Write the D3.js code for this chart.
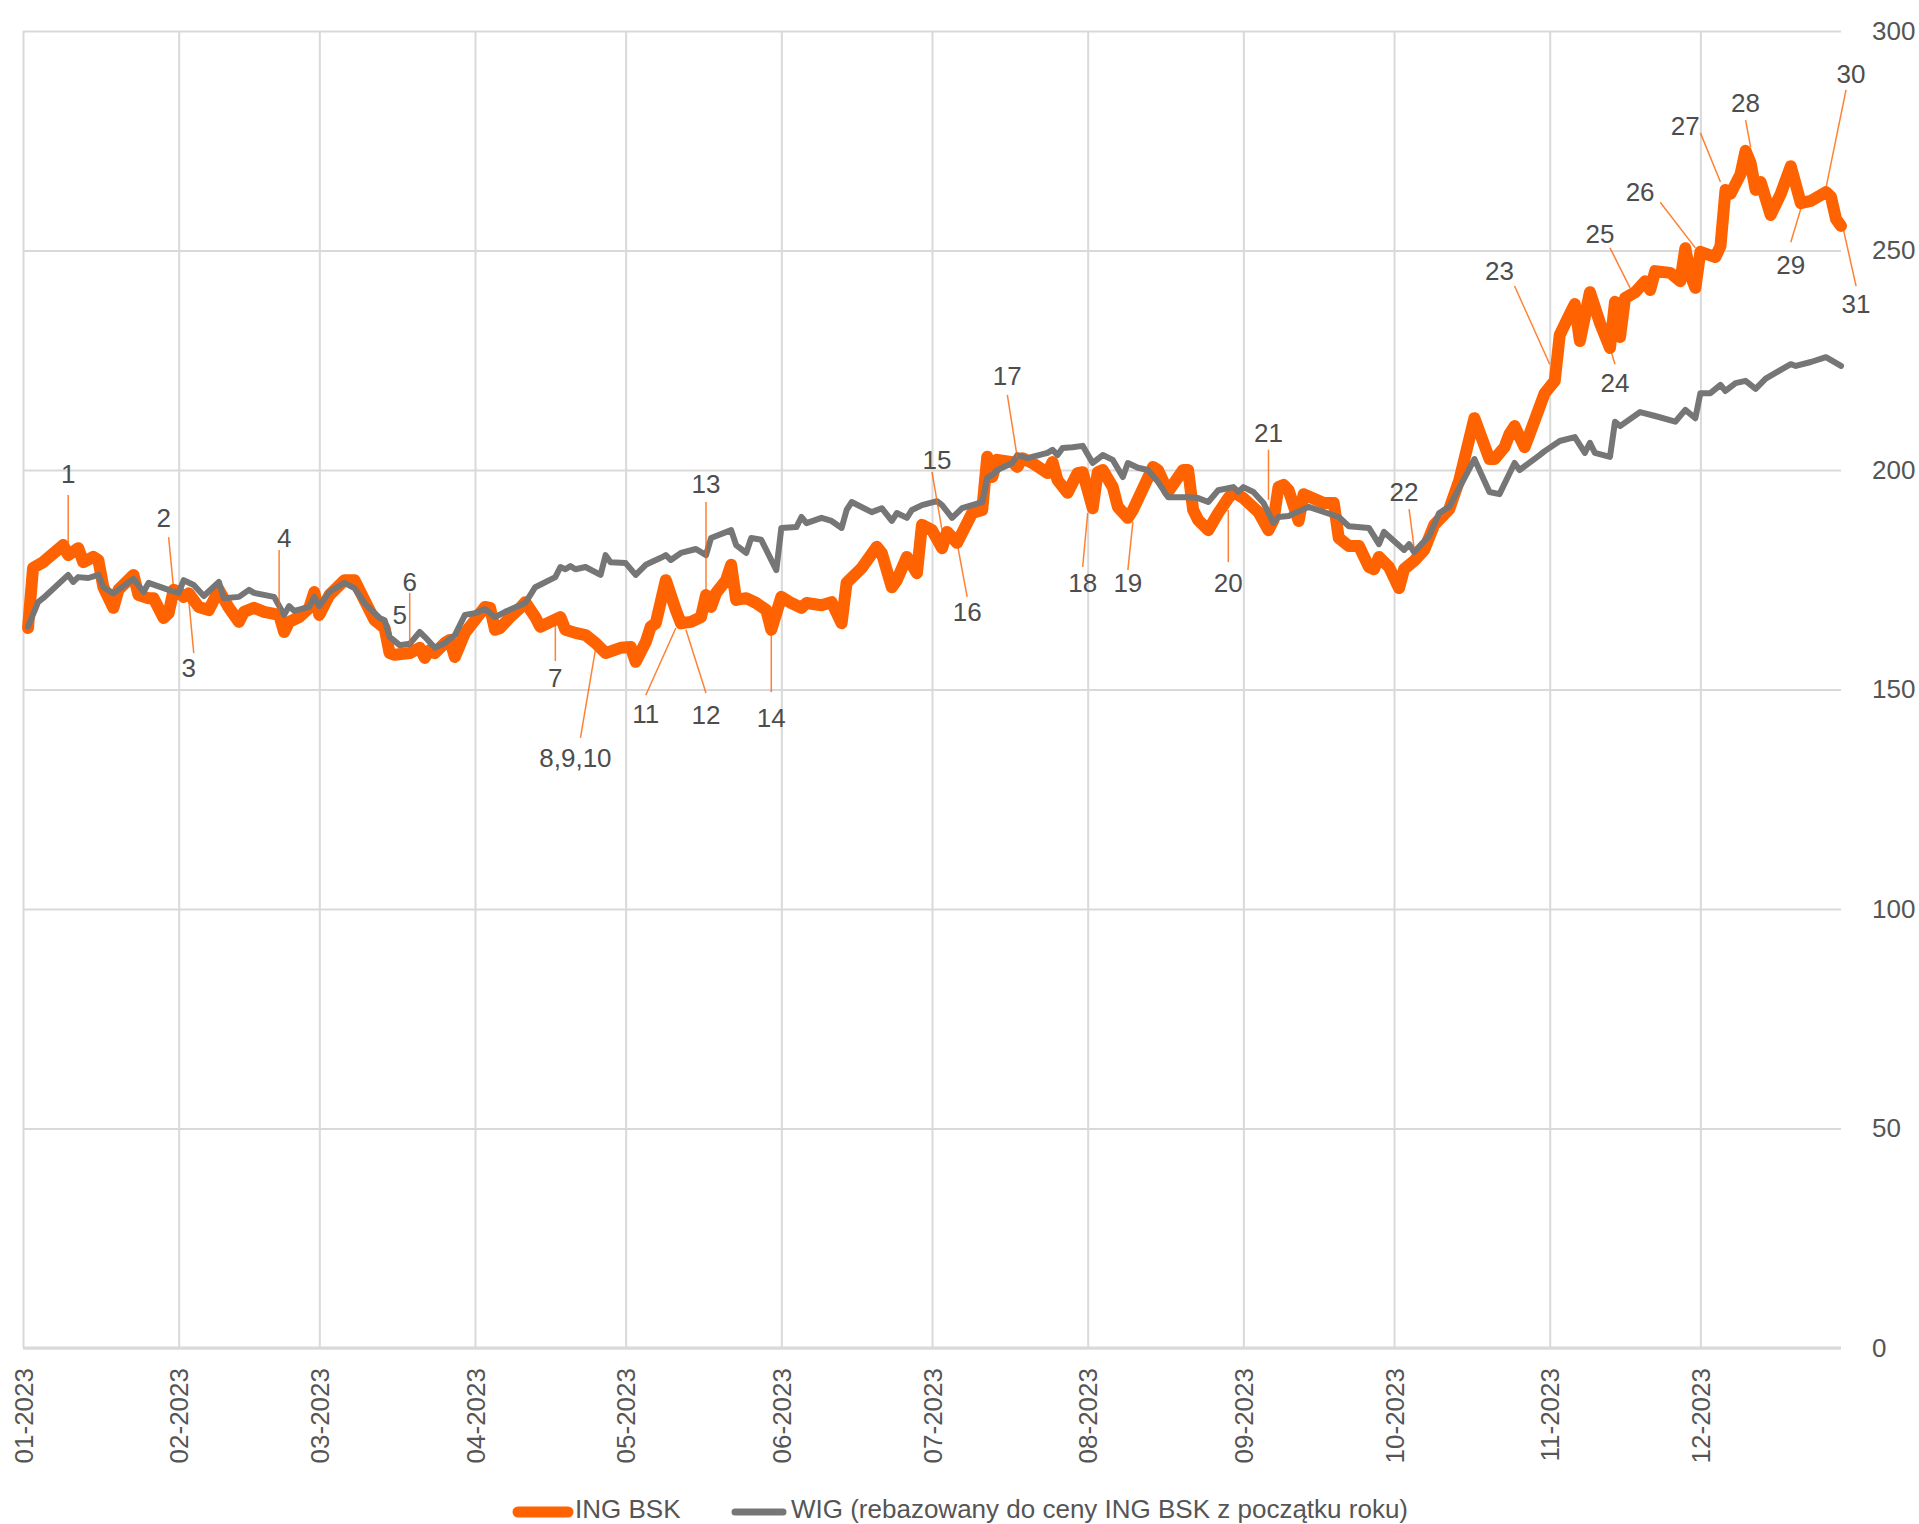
<!DOCTYPE html>
<html>
<head>
<meta charset="utf-8">
<script src="https://cdn.jsdelivr.net/npm/d3@7"></script>
<style>
  body { margin: 0; background: #ffffff; }
  svg { display: block; }
  text { font-family: "Liberation Sans", Arial, sans-serif; }
</style>
</head>
<body>
<div id="chart"></div>
<script>
"use strict";

// ING BSK share price (orange) and WIG rebased to ING BSK price at start of year (grey)
const ingBsk = [
  ["2023-01-02",164.0],["2023-01-03",177.7],["2023-01-05",179.0],["2023-01-09",182.9],["2023-01-10",180.6],
  ["2023-01-12",182.2],["2023-01-13",179.0],["2023-01-15",180.2],["2023-01-16",179.5],["2023-01-17",173.3],
  ["2023-01-19",168.6],["2023-01-20",172.7],["2023-01-23",176.1],["2023-01-24",171.5],["2023-01-26",170.8],
  ["2023-01-27",170.8],["2023-01-29",166.3],["2023-01-30",167.4],["2023-01-31",172.7],["2023-02-01",172.2],
  ["2023-02-02",171.1],["2023-02-03",171.9],["2023-02-05",168.8],["2023-02-07",168.1],["2023-02-09",172.7],
  ["2023-02-11",168.6],["2023-02-13",165.4],["2023-02-14",167.7],["2023-02-16",168.6],["2023-02-18",167.7],
  ["2023-02-21",167.0],["2023-02-22",163.1],["2023-02-23",165.4],["2023-02-25",166.5],["2023-02-27",168.6],
  ["2023-02-28",172.2],["2023-03-01",167.0],["2023-03-03",171.5],["2023-03-06",174.9],["2023-03-08",174.9],
  ["2023-03-12",165.8],["2023-03-14",164.0],["2023-03-15",158.3],["2023-03-16",157.9],["2023-03-19",158.3],
  ["2023-03-21",159.5],["2023-03-22",157.2],["2023-03-23",159.0],["2023-03-24",158.3],["2023-03-26",160.6],
  ["2023-03-27",161.3],["2023-03-28",157.4],["2023-03-30",162.9],["2023-04-01",165.8],["2023-04-03",168.8],
  ["2023-04-04",168.6],["2023-04-05",163.6],["2023-04-06",164.0],["2023-04-08",166.5],["2023-04-10",168.6],
  ["2023-04-11",169.9],["2023-04-13",166.5],["2023-04-14",164.3],["2023-04-18",166.5],["2023-04-19",163.6],
  ["2023-04-21",162.9],["2023-04-23",162.4],["2023-04-25",160.6],["2023-04-27",158.3],["2023-04-30",159.5],
  ["2023-05-02",159.7],["2023-05-03",156.3],["2023-05-05",160.8],["2023-05-06",164.3],["2023-05-07",165.1],
  ["2023-05-09",174.9],["2023-05-11",168.1],["2023-05-12",165.1],["2023-05-14",165.4],["2023-05-16",166.5],
  ["2023-05-17",171.5],["2023-05-18",168.8],["2023-05-19",172.0],["2023-05-21",174.9],["2023-05-22",178.4],
  ["2023-05-23",170.4],["2023-05-25",170.8],["2023-05-27",169.7],["2023-05-29",168.1],["2023-05-30",163.6],
  ["2023-06-01",171.1],["2023-06-03",169.7],["2023-06-05",168.6],["2023-06-06",169.7],["2023-06-09",169.2],
  ["2023-06-11",169.9],["2023-06-13",165.1],["2023-06-14",174.3],["2023-06-17",177.7],["2023-06-20",182.5],
  ["2023-06-21",181.1],["2023-06-23",173.3],["2023-06-24",174.9],["2023-06-26",180.2],["2023-06-28",176.5],
  ["2023-06-29",187.5],["2023-07-01",186.3],["2023-07-03",182.2],["2023-07-04",185.9],["2023-07-06",183.4],
  ["2023-07-09",190.2],["2023-07-11",190.9],["2023-07-12",203.0],["2023-07-13",198.4],["2023-07-14",202.3],
  ["2023-07-17",201.8],["2023-07-18",200.7],["2023-07-19",202.7],["2023-07-21",201.6],["2023-07-24",199.3],
  ["2023-07-25",201.8],["2023-07-26",197.7],["2023-07-28",194.8],["2023-07-30",199.3],["2023-07-31",199.5],
  ["2023-08-02",191.3],["2023-08-03",199.5],["2023-08-04",200.0],["2023-08-06",196.1],["2023-08-07",191.6],
  ["2023-08-09",189.1],["2023-08-10",190.9],["2023-08-13",198.2],["2023-08-14",200.7],["2023-08-15",200.0],
  ["2023-08-17",195.0],["2023-08-20",200.0],["2023-08-21",200.0],["2023-08-22",190.9],["2023-08-23",188.6],
  ["2023-08-25",186.3],["2023-08-27",190.2],["2023-08-29",193.6],["2023-08-30",195.0],["2023-09-01",193.6],
  ["2023-09-04",190.4],["2023-09-06",186.3],["2023-09-07",188.6],["2023-09-08",196.1],["2023-09-09",196.6],
  ["2023-09-10",195.4],["2023-09-12",188.4],["2023-09-13",194.5],["2023-09-17",192.5],["2023-09-19",192.5],
  ["2023-09-20",184.5],["2023-09-22",182.7],["2023-09-24",182.7],["2023-09-26",177.9],["2023-09-27",177.4],
  ["2023-09-28",180.2],["2023-09-30",177.9],["2023-10-02",173.1],["2023-10-03",177.4],["2023-10-05",179.3],
  ["2023-10-07",181.8],["2023-10-09",187.5],["2023-10-12",191.1],["2023-10-14",197.7],["2023-10-17",211.8],
  ["2023-10-20",202.5],["2023-10-21",202.5],["2023-10-23",205.2],["2023-10-24",208.2],["2023-10-25",210.0],
  ["2023-10-27",205.2],["2023-10-28",208.2],["2023-10-31",217.5],["2023-11-01",218.9],["2023-11-02",220.3],
  ["2023-11-03",230.8],["2023-11-05",235.5],["2023-11-06",237.8],["2023-11-07",229.4],["2023-11-09",240.5],
  ["2023-11-11",233.5],["2023-11-13",227.8],["2023-11-14",238.3],["2023-11-15",230.3],["2023-11-16",239.2],
  ["2023-11-18",240.5],["2023-11-20",243.0],["2023-11-21",241.0],["2023-11-22",245.3],["2023-11-25",244.9],
  ["2023-11-27",243.0],["2023-11-28",250.5],["2023-11-29",244.4],["2023-11-30",241.5],["2023-12-01",249.7],
  ["2023-12-04",248.5],["2023-12-05",251.0],["2023-12-06",263.8],["2023-12-07",262.9],["2023-12-09",267.4],
  ["2023-12-10",272.7],["2023-12-11",269.9],["2023-12-12",263.8],["2023-12-13",265.6],["2023-12-15",258.1],
  ["2023-12-17",262.9],["2023-12-19",269.2],["2023-12-21",260.8],["2023-12-23",261.3],["2023-12-26",263.3],
  ["2023-12-27",262.2],["2023-12-28",257.2],["2023-12-29",255.6]
];

const wig = [
  ["2023-01-02",164.3],["2023-01-04",169.9],["2023-01-05",170.8],["2023-01-10",176.1],["2023-01-11",174.5],
  ["2023-01-12",175.6],["2023-01-14",175.4],["2023-01-16",176.1],["2023-01-17",173.3],["2023-01-19",171.9],
  ["2023-01-23",175.2],["2023-01-25",172.2],["2023-01-26",174.3],["2023-01-30",172.7],["2023-02-01",172.0],
  ["2023-02-02",174.9],["2023-02-04",173.8],["2023-02-06",171.3],["2023-02-09",174.5],["2023-02-10",170.8],
  ["2023-02-13",171.1],["2023-02-15",172.7],["2023-02-16",172.0],["2023-02-20",171.1],["2023-02-22",167.0],
  ["2023-02-23",169.0],["2023-02-24",167.9],["2023-02-27",168.8],["2023-02-28",171.1],["2023-03-01",169.0],
  ["2023-03-03",172.2],["2023-03-06",174.3],["2023-03-08",173.1],["2023-03-10",169.7],["2023-03-13",166.3],
  ["2023-03-14",165.8],["2023-03-15",162.0],["2023-03-17",160.1],["2023-03-19",160.4],["2023-03-21",163.1],
  ["2023-03-22",162.0],["2023-03-24",159.5],["2023-03-26",160.6],["2023-03-28",162.4],["2023-03-30",167.0],
  ["2023-04-01",167.4],["2023-04-03",168.3],["2023-04-05",166.5],["2023-04-07",167.7],["2023-04-11",169.7],
  ["2023-04-13",173.3],["2023-04-17",175.6],["2023-04-18",177.9],["2023-04-19",177.4],["2023-04-20",178.1],
  ["2023-04-21",177.4],["2023-04-23",177.9],["2023-04-26",176.1],["2023-04-27",180.6],["2023-04-28",179.0],
  ["2023-05-01",178.8],["2023-05-03",176.1],["2023-05-05",178.4],["2023-05-08",180.0],["2023-05-09",180.6],
  ["2023-05-10",179.5],["2023-05-12",181.1],["2023-05-15",182.0],["2023-05-17",180.6],["2023-05-18",184.5],
  ["2023-05-22",186.3],["2023-05-23",182.9],["2023-05-25",181.1],["2023-05-26",184.5],["2023-05-28",184.1],
  ["2023-05-31",177.2],["2023-06-01",186.8],["2023-06-04",187.0],["2023-06-05",189.3],["2023-06-06",187.9],
  ["2023-06-09",189.1],["2023-06-11",188.4],["2023-06-13",186.8],["2023-06-14",190.9],["2023-06-15",192.7],
  ["2023-06-19",190.4],["2023-06-21",191.3],["2023-06-23",188.4],["2023-06-24",190.2],["2023-06-26",189.1],
  ["2023-06-27",190.9],["2023-06-29",192.0],["2023-07-02",192.9],["2023-07-03",192.0],["2023-07-05",189.1],
  ["2023-07-07",191.3],["2023-07-11",192.7],["2023-07-12",198.2],["2023-07-13",198.9],["2023-07-14",200.0],
  ["2023-07-17",201.6],["2023-07-18",203.4],["2023-07-20",202.7],["2023-07-24",203.9],["2023-07-25",204.6],
  ["2023-07-26",203.4],["2023-07-27",205.0],["2023-07-29",205.2],["2023-07-31",205.5],["2023-08-02",201.6],
  ["2023-08-04",203.4],["2023-08-06",202.3],["2023-08-08",198.4],["2023-08-09",201.6],["2023-08-11",200.5],
  ["2023-08-13",200.0],["2023-08-15",197.3],["2023-08-17",193.8],["2023-08-21",193.8],["2023-08-23",193.6],
  ["2023-08-25",192.7],["2023-08-27",195.4],["2023-08-30",196.1],["2023-08-31",195.0],["2023-09-01",196.1],
  ["2023-09-03",195.0],["2023-09-05",192.5],["2023-09-07",187.9],["2023-09-08",189.3],["2023-09-10",189.5],
  ["2023-09-14",191.6],["2023-09-20",189.3],["2023-09-22",187.2],["2023-09-26",186.8],["2023-09-28",183.1],
  ["2023-09-29",185.9],["2023-10-03",181.8],["2023-10-04",183.1],["2023-10-05",181.3],["2023-10-08",185.0],
  ["2023-10-10",190.2],["2023-10-12",191.6],["2023-10-17",202.5],["2023-10-20",195.0],["2023-10-22",194.5],
  ["2023-10-25",201.6],["2023-10-26",200.0],["2023-10-30",203.4],["2023-10-31",204.3],["2023-11-03",206.6],
  ["2023-11-06",207.5],["2023-11-08",203.9],["2023-11-09",206.2],["2023-11-10",203.9],["2023-11-13",203.0],
  ["2023-11-14",211.0],["2023-11-15",210.0],["2023-11-19",213.2],["2023-11-22",212.3],["2023-11-26",211.0],
  ["2023-11-28",213.7],["2023-11-30",211.8],["2023-12-01",217.5],["2023-12-03",217.5],["2023-12-05",219.4],
  ["2023-12-06",218.0],["2023-12-08",219.8],["2023-12-10",220.3],["2023-12-12",218.5],["2023-12-14",220.8],
  ["2023-12-17",222.8],["2023-12-19",224.1],["2023-12-20",223.7],["2023-12-23",224.6],["2023-12-26",225.7],
  ["2023-12-29",223.7]
];

// numbered events: label, label date/value, leader start date/value, leader end date/value
const events = [
  ["1", "2023-01-10", 199.1, "2023-01-10", 194.3, "2023-01-10", 183.4],
  ["2", "2023-01-29", 189.1, "2023-01-30", 184.7, "2023-01-31", 172.7],
  ["3", "2023-02-03", 154.9, "2023-02-04", 158.3, "2023-02-03", 170.4],
  ["4", "2023-02-22", 184.7, "2023-02-21", 181.8, "2023-02-21", 167.0],
  ["5", "2023-03-17", 167.0, null, null, null, null],
  ["6", "2023-03-19", 174.5, "2023-03-19", 172.0, "2023-03-19", 160.1],
  ["7", "2023-04-17", 152.6, "2023-04-17", 156.5, "2023-04-17", 165.4],
  ["8,9,10", "2023-04-21", 134.4, "2023-04-22", 139.0, "2023-04-25", 159.2],
  ["11", "2023-05-05", 144.6, "2023-05-05", 148.7, "2023-05-11", 164.0],
  ["12", "2023-05-17", 144.2, "2023-05-17", 149.2, "2023-05-13", 163.6],
  ["13", "2023-05-17", 197.0, "2023-05-17", 192.7, "2023-05-17", 172.0],
  ["14", "2023-05-30", 143.7, "2023-05-30", 149.4, "2023-05-30", 163.6],
  ["15", "2023-07-02", 202.3, "2023-07-01", 199.5, "2023-07-03", 186.3],
  ["16", "2023-07-08", 167.7, "2023-07-08", 171.1, "2023-07-06", 183.4],
  ["17", "2023-07-16", 221.6, "2023-07-16", 217.1, "2023-07-18", 202.7],
  ["18", "2023-07-31", 174.3, "2023-07-31", 177.9, "2023-08-01", 190.2],
  ["19", "2023-08-09", 174.3, "2023-08-09", 177.2, "2023-08-10", 188.2],
  ["20", "2023-08-29", 174.3, "2023-08-29", 179.0, "2023-08-29", 190.9],
  ["21", "2023-09-06", 208.4, "2023-09-06", 204.6, "2023-09-06", 193.2],
  ["22", "2023-10-03", 195.0, "2023-10-04", 191.1, "2023-10-05", 182.2],
  ["23", "2023-10-22", 245.3, "2023-10-25", 241.9, "2023-11-01", 224.1],
  ["24", "2023-11-14", 219.8, "2023-11-14", 224.1, "2023-11-13", 227.8],
  ["25", "2023-11-11", 253.8, "2023-11-13", 250.6, "2023-11-17", 241.5],
  ["26", "2023-11-19", 263.3, "2023-11-23", 261.0, "2023-11-30", 250.6],
  ["27", "2023-11-28", 278.4, "2023-12-01", 276.8, "2023-12-05", 265.6],
  ["28", "2023-12-10", 283.6, "2023-12-10", 279.7, "2023-12-11", 273.6],
  ["29", "2023-12-19", 246.7, "2023-12-19", 251.9, "2023-12-21", 259.5],
  ["30", "2023-12-31", 290.4, "2023-12-30", 286.6, "2023-12-26", 264.2],
  ["31", "2024-01-01", 237.8, "2024-01-01", 241.9, "2023-12-29", 257.2]
];

const yTicks = [0, 50, 100, 150, 200, 250, 300];
const seriesNames = ["ING BSK", "WIG (rebazowany do ceny ING BSK z początku roku)"];

const width = 1919;
const height = 1524;
const plotLeft = 23;
const plotRight = 1841;
const plotTop = 31;
const plotBottom = 1348;
const orange = "#ff6200";
const grey = "#767676";
const gridColor = "#d9d9d9";
const textColor = "#555555";

const parse = d3.timeParse("%Y-%m-%d");

const x = d3.scaleTime()
    .domain([parse("2023-01-01"), parse("2023-12-29")])
    .range([plotLeft, plotRight]);

const y = d3.scaleLinear()
    .domain([0, 300])
    .range([plotBottom, plotTop]);

const svg = d3.select("#chart")
    .append("svg")
    .attr("width", width)
    .attr("height", height)
    .attr("viewBox", [0, 0, width, height]);

/* y axis on the right with horizontal grid lines */
const yAxis = svg.append("g")
    .attr("transform", `translate(${plotRight},0)`)
    .call(d3.axisRight(y).tickValues(yTicks).tickSize(-(plotRight - plotLeft)).tickPadding(31));
yAxis.select(".domain").remove();
yAxis.selectAll(".tick line")
    .attr("stroke", gridColor)
    .attr("stroke-width", 2);
yAxis.selectAll(".tick text")
    .attr("fill", textColor)
    .style("font-size", "26px");

/* x axis: monthly ticks, vertical grid lines */
const xAxis = svg.append("g")
    .attr("transform", `translate(0,${plotBottom})`)
    .call(d3.axisBottom(x)
      .ticks(d3.timeMonth.every(1))
      .tickFormat(d3.timeFormat("%m-%Y"))
      .tickSize(-(plotBottom - plotTop)));
xAxis.select(".domain").remove();
xAxis.selectAll(".tick line")
    .attr("stroke", gridColor)
    .attr("stroke-width", 2);
xAxis.selectAll(".tick text")
    .attr("fill", textColor)
    .style("font-size", "26px")
    .attr("text-anchor", "end")
    .attr("transform", "translate(0,20) rotate(-90)")
    .attr("x", 0)
    .attr("y", 0)
    .attr("dy", "0.35em");

svg.append("line")
    .attr("x1", plotLeft)
    .attr("x2", plotRight)
    .attr("y1", y(0))
    .attr("y2", y(0))
    .attr("stroke", gridColor)
    .attr("stroke-width", 3);

/* series */
const line = d3.line()
    .x(d => x(parse(d[0])))
    .y(d => y(d[1]));

svg.append("path")
    .datum(ingBsk)
    .attr("d", line)
    .attr("fill", "none")
    .attr("stroke", orange)
    .attr("stroke-width", 12)
    .attr("stroke-linejoin", "round")
    .attr("stroke-linecap", "round");

svg.append("path")
    .datum(wig)
    .attr("d", line)
    .attr("fill", "none")
    .attr("stroke", grey)
    .attr("stroke-width", 6)
    .attr("stroke-linejoin", "round")
    .attr("stroke-linecap", "round");

/* event labels */
svg.selectAll(".leader")
    .data(events.filter(d => d[3] !== null))
    .enter()
    .append("line")
    .attr("class", "leader")
    .attr("x1", d => x(parse(d[3])))
    .attr("y1", d => y(d[4]))
    .attr("x2", d => x(parse(d[5])))
    .attr("y2", d => y(d[6]))
    .attr("stroke", orange)
    .attr("stroke-opacity", 0.8)
    .attr("stroke-width", 1.5);

svg.selectAll(".event-label")
    .data(events)
    .enter()
    .append("text")
    .attr("class", "event-label")
    .attr("x", d => x(parse(d[1])))
    .attr("y", d => y(d[2]))
    .attr("dy", "0.36em")
    .attr("text-anchor", "middle")
    .style("font-size", "26px")
    .style("fill", "#4d4d4d")
    .text(d => d[0]);

/* legend */
const legendX = [513, 731];
const legend = svg.selectAll(".legend")
    .data(seriesNames)
    .enter()
    .append("g")
    .attr("class", "legend")
    .attr("transform", (d, i) => `translate(${legendX[i]},1512)`);

legend.append("line")
    .attr("x1", (d, i) => i === 0 ? 5 : 4)
    .attr("x2", (d, i) => i === 0 ? 55 : 52)
    .attr("stroke", (d, i) => i === 0 ? orange : grey)
    .attr("stroke-width", (d, i) => i === 0 ? 11 : 7)
    .attr("stroke-linecap", "round");

legend.append("text")
    .attr("x", (d, i) => i === 0 ? 62 : 60)
    .attr("y", 6)
    .style("font-size", "26px")
    .style("fill", textColor)
    .text(d => d);
</script>
</body>
</html>
